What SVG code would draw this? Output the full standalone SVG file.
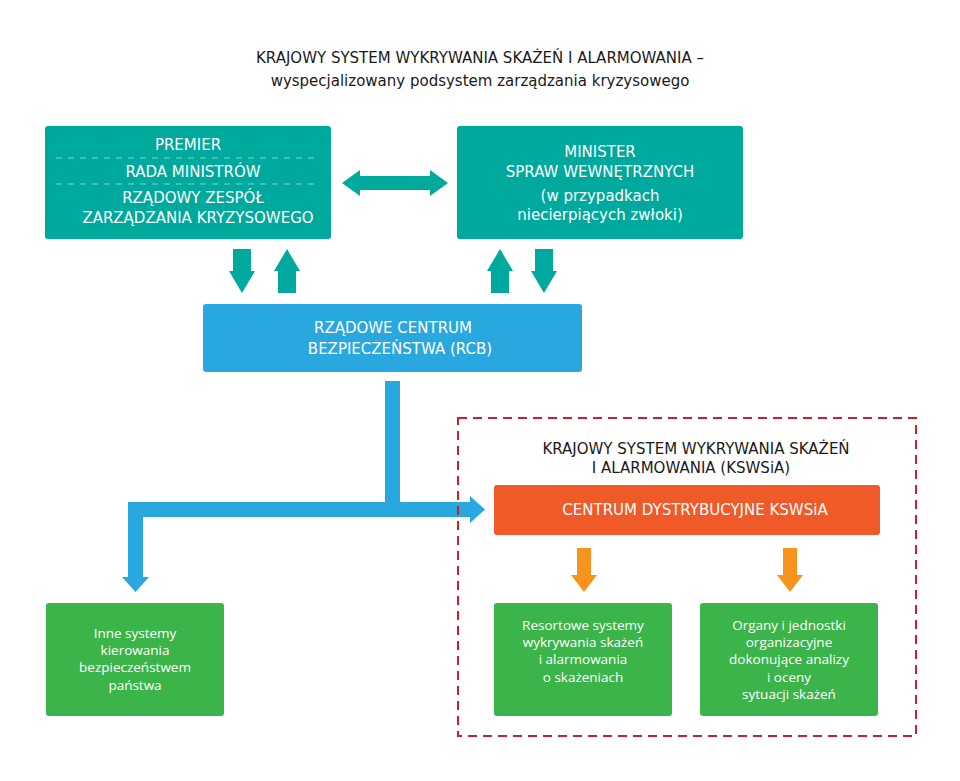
<svg xmlns="http://www.w3.org/2000/svg" width="960" height="781" viewBox="0 0 960 781">
<style>
text{font-family:"DejaVu Sans","Open Sans",sans-serif;text-anchor:middle}
.w{fill:#fff;font-size:15px}
.s{fill:#fff;font-size:13.5px;font-family:"Open Sans","DejaVu Sans",sans-serif}
.k{fill:#1a1a1a;font-size:15px}
.teal{fill:#00a99d}
.green{fill:#3bb44a}
</style>
<rect width="960" height="781" fill="#fff"/>
<g id="title">
<text class="k" x="480" y="63" font-size="16">KRAJOWY SYSTEM WYKRYWANIA SKAŻEŃ I ALARMOWANIA –</text>
<text class="k" x="480" y="86" font-size="16">wyspecjalizowany podsystem zarządzania kryzysowego</text>
</g>
<g id="connectors">
<polygon class="teal" points="342,183 360,170 360,176 430,176 430,170 448,183 430,196 430,190 360,190 360,196"/>
<polygon class="teal" points="233,249 251,249 251,271 255,271 242,293 229,271 233,271"/>
<polygon class="teal" points="278,293 296,293 296,271 300,271 287,249 274,271 278,271"/>
<polygon class="teal" points="491,293 509,293 509,271 513,271 500,249 487,271 491,271"/>
<polygon class="teal" points="535,249 553,249 553,271 557,271 544,293 531,271 535,271"/>
<polygon fill="#29a8e0" points="385,381 400,381 400,502 470,502 470,496 485,509.5 470,523 470,517 143,517 143,577 149,577 135.5,592 122,577 128,577 128,502 385,502"/>
<polygon fill="#f7941d" points="577,548 591,548 591,575 597,575 584,592 571,575 577,575"/>
<polygon fill="#f7941d" points="783,548 797,548 797,575 803,575 790,592 777,575 783,575"/>
</g>
<g id="premier">
<rect class="teal" x="45" y="126" width="286" height="113" rx="3"/>
<line x1="56" y1="158" x2="320" y2="158" stroke="#7fd4ce" stroke-dasharray="6,6"/>
<line x1="56" y1="184" x2="320" y2="184" stroke="#7fd4ce" stroke-dasharray="6,6"/>
<text class="w" x="188" y="150">PREMIER</text>
<text class="w" x="193" y="177">RADA MINISTRÓW</text>
<text class="w" x="193" y="203">RZĄDOWY ZESPÓŁ</text>
<text class="w" x="198" y="223">ZARZĄDZANIA KRYZYSOWEGO</text>
</g>
<g id="minister">
<rect class="teal" x="457" y="126" width="286" height="113" rx="3"/>
<text class="w" x="600" y="157">MINISTER</text>
<text class="w" x="600" y="177">SPRAW WEWNĘTRZNYCH</text>
<text class="w" x="600" y="201" font-size="14">(w przypadkach</text>
<text class="w" x="600" y="220" font-size="14">niecierpiących zwłoki)</text>
</g>
<g id="rcb">
<rect fill="#29a8e0" x="203" y="304" width="379" height="68" rx="3"/>
<text class="w" x="393" y="333">RZĄDOWE CENTRUM</text>
<text class="w" x="400" y="354">BEZPIECZEŃSTWA (RCB)</text>
</g>
<g id="kswsia">
<rect x="458" y="418" width="458" height="318" fill="none" stroke="#c8202f" stroke-width="2" stroke-dasharray="9,6"/>
<text class="k" x="696" y="454">KRAJOWY SYSTEM WYKRYWANIA SKAŻEŃ</text>
<text class="k" x="691" y="473">I ALARMOWANIA (KSWSiA)</text>
</g>
<g id="centrum">
<rect fill="#f05a28" x="494" y="485" width="386" height="50" rx="3"/>
<text class="w" x="695" y="515">CENTRUM DYSTRYBUCYJNE KSWSiA</text>
</g>
<g id="inne">
<rect class="green" x="46" y="603" width="178" height="113" rx="3"/>
<text class="s" x="135" y="638">Inne systemy</text>
<text class="s" x="135" y="655">kierowania</text>
<text class="s" x="135" y="672">bezpieczeństwem</text>
<text class="s" x="135" y="690">państwa</text>
</g>
<g id="resortowe">
<rect class="green" x="494" y="603" width="178" height="113" rx="3"/>
<text class="s" x="583" y="630">Resortowe systemy</text>
<text class="s" x="583" y="647">wykrywania skażeń</text>
<text class="s" x="583" y="664">i alarmowania</text>
<text class="s" x="583" y="682">o skażeniach</text>
</g>
<g id="organy">
<rect class="green" x="700" y="603" width="178" height="113" rx="3"/>
<text class="s" x="789" y="630">Organy i jednostki</text>
<text class="s" x="789" y="647">organizacyjne</text>
<text class="s" x="789" y="664">dokonujące analizy</text>
<text class="s" x="789" y="682">i oceny</text>
<text class="s" x="789" y="699">sytuacji skażeń</text>
</g>
</svg>
